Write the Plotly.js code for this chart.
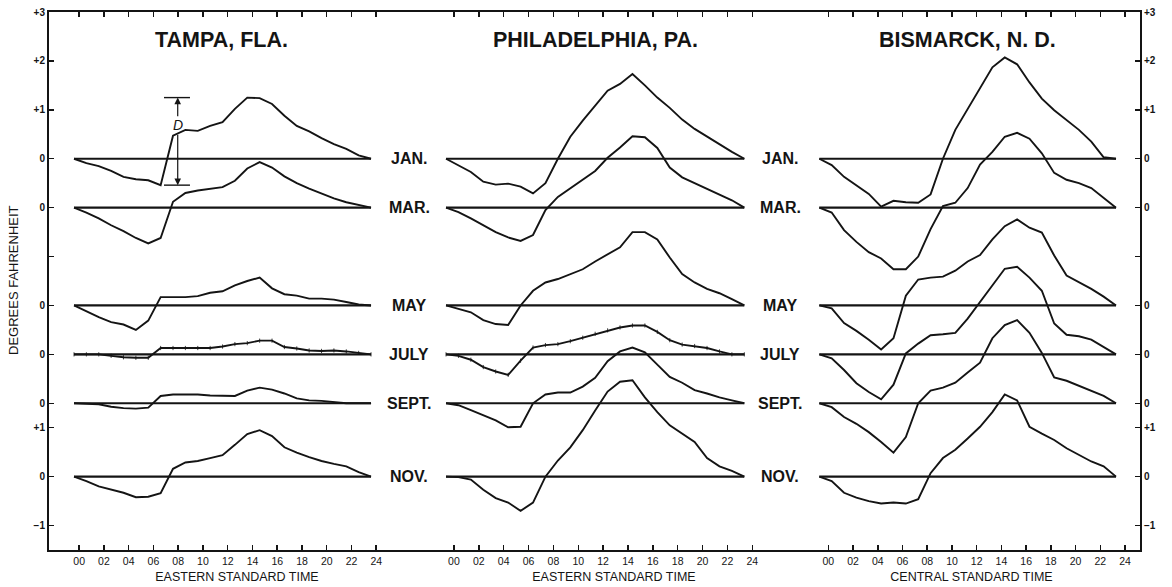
<!DOCTYPE html>
<html>
<head>
<meta charset="utf-8">
<script src="https://cdn.plot.ly/plotly-3.0.1.min.js"></script>
<style>
  html, body { margin: 0; padding: 0; background: #ffffff; }
  #chart { width: 1172px; height: 587px; }
</style>
</head>
<body>
<div id="chart"></div>
<script>
// ---------------- DATA ----------------
const HOURS = [0, 1, 2, 3, 4, 5, 6, 7, 8, 9, 10, 11, 12, 13, 14, 15, 16, 17, 18, 19, 20, 21, 22, 23, 24];
const MONTHS = ["JAN.", "MAR.", "MAY", "JULY", "SEPT.", "NOV."];
const CITIES = ["TAMPA, FLA.", "PHILADELPHIA, PA.", "BISMARCK, N. D."];
const TIME_ZONES = ["EASTERN STANDARD TIME", "EASTERN STANDARD TIME", "CENTRAL STANDARD TIME"];
const HOUR_TICKS = [0, 2, 4, 6, 8, 10, 12, 14, 16, 18, 20, 22, 24];
const HOUR_TICK_TEXT = ["00", "02", "04", "06", "08", "10", "12", "14", "16", "18", "20", "22", "24"];
const DEG_TICK_TEXT = ["+3", "+2", "+1", "0", "0", "", "0", "0", "0", "+1", "0", "\u22121"];

// Departure from daily mean (deg F), hourly
const tampaJan  = [0, -0.09, -0.15, -0.25, -0.37, -0.42, -0.44, -0.54, 0.47, 0.59, 0.57, 0.67, 0.75, 1.02, 1.25, 1.24, 1.12, 0.88, 0.67, 0.56, 0.42, 0.30, 0.20, 0.07, 0];
const tampaMar  = [0, -0.10, -0.22, -0.36, -0.48, -0.62, -0.73, -0.62, 0.12, 0.30, 0.35, 0.38, 0.42, 0.55, 0.80, 0.93, 0.82, 0.64, 0.50, 0.39, 0.29, 0.19, 0.11, 0.05, 0];
const tampaMay  = [0, -0.12, -0.24, -0.34, -0.39, -0.50, -0.31, 0.17, 0.17, 0.17, 0.19, 0.26, 0.29, 0.41, 0.50, 0.57, 0.35, 0.23, 0.20, 0.14, 0.14, 0.12, 0.07, 0.02, 0];
const tampaJul  = [0, 0, 0, -0.03, -0.06, -0.07, -0.07, 0.13, 0.13, 0.13, 0.13, 0.13, 0.16, 0.21, 0.23, 0.28, 0.28, 0.15, 0.12, 0.08, 0.07, 0.08, 0.06, 0.03, 0];
const tampaSep  = [0, -0.01, -0.02, -0.07, -0.10, -0.11, -0.09, 0.15, 0.18, 0.18, 0.18, 0.16, 0.15, 0.15, 0.26, 0.32, 0.28, 0.20, 0.10, 0.06, 0.05, 0.03, 0, 0, 0];
const tampaNov  = [0, -0.09, -0.20, -0.26, -0.33, -0.42, -0.41, -0.34, 0.16, 0.29, 0.32, 0.38, 0.44, 0.65, 0.87, 0.95, 0.83, 0.60, 0.49, 0.40, 0.32, 0.26, 0.21, 0.09, 0];

const philaJan  = [0, -0.13, -0.27, -0.47, -0.53, -0.51, -0.57, -0.71, -0.50, 0.0, 0.45, 0.78, 1.08, 1.39, 1.53, 1.73, 1.50, 1.25, 1.04, 0.80, 0.61, 0.45, 0.30, 0.14, 0];
const philaMar  = [0, -0.09, -0.22, -0.36, -0.50, -0.61, -0.68, -0.56, -0.05, 0.22, 0.40, 0.57, 0.75, 1.02, 1.23, 1.46, 1.44, 1.22, 0.82, 0.62, 0.50, 0.38, 0.27, 0.15, 0];
const philaMay  = [0, -0.07, -0.14, -0.30, -0.38, -0.40, 0.0, 0.30, 0.47, 0.54, 0.64, 0.74, 0.90, 1.04, 1.19, 1.50, 1.50, 1.35, 0.98, 0.64, 0.47, 0.34, 0.25, 0.13, 0];
const philaJul  = [0, -0.03, -0.11, -0.26, -0.35, -0.42, -0.13, 0.14, 0.19, 0.21, 0.27, 0.34, 0.42, 0.49, 0.55, 0.59, 0.59, 0.46, 0.29, 0.20, 0.17, 0.13, 0.06, 0.0, 0];
const philaSep  = [0, -0.04, -0.14, -0.24, -0.35, -0.49, -0.48, 0.0, 0.18, 0.22, 0.22, 0.34, 0.52, 0.86, 1.06, 1.14, 1.04, 0.79, 0.54, 0.42, 0.27, 0.20, 0.12, 0.06, 0];
const philaNov  = [0, -0.01, -0.06, -0.27, -0.44, -0.53, -0.70, -0.53, 0.0, 0.33, 0.60, 0.95, 1.35, 1.74, 1.94, 1.97, 1.62, 1.32, 1.05, 0.88, 0.71, 0.38, 0.21, 0.12, 0];

const bisJan    = [0, -0.13, -0.37, -0.55, -0.72, -0.98, -0.86, -0.89, -0.90, -0.73, 0.0, 0.59, 1.02, 1.46, 1.87, 2.07, 1.93, 1.56, 1.23, 0.99, 0.79, 0.59, 0.35, 0.03, 0];
const bisMar    = [0, -0.10, -0.46, -0.70, -0.91, -1.04, -1.26, -1.26, -1.00, -0.44, 0.03, 0.10, 0.40, 0.88, 1.14, 1.45, 1.53, 1.41, 1.11, 0.71, 0.57, 0.50, 0.40, 0.20, 0];
const bisMay    = [0, -0.06, -0.36, -0.52, -0.70, -0.90, -0.67, 0.20, 0.53, 0.57, 0.59, 0.71, 0.90, 1.03, 1.35, 1.62, 1.76, 1.59, 1.49, 1.02, 0.61, 0.48, 0.34, 0.18, 0];
const bisJul    = [0, -0.08, -0.32, -0.59, -0.77, -0.92, -0.62, 0.02, 0.22, 0.39, 0.41, 0.44, 0.73, 1.07, 1.40, 1.75, 1.79, 1.57, 1.30, 0.63, 0.40, 0.37, 0.30, 0.15, 0];
const bisSep    = [0, -0.08, -0.28, -0.42, -0.59, -0.79, -1.01, -0.69, 0.0, 0.26, 0.32, 0.42, 0.63, 0.83, 1.33, 1.60, 1.70, 1.44, 1.03, 0.53, 0.46, 0.36, 0.26, 0.15, 0];
const bisNov    = [0, -0.09, -0.33, -0.43, -0.50, -0.55, -0.53, -0.55, -0.46, 0.07, 0.38, 0.55, 0.78, 1.02, 1.32, 1.68, 1.56, 1.02, 0.88, 0.75, 0.58, 0.44, 0.31, 0.21, 0];

// ---------------- LAYOUT CONSTANTS ----------------
const INK = '#141414';
const FONT = 'Liberation Sans, Arial, sans-serif';
const W = 1172, H = 587;
const M = { l: 49, r: 32, t: 12, b: 37 };
const PW = W - M.l - M.r, PH = H - M.t - M.b;
const px2paperX = p => (p - M.l) / PW;
const px2paperY = p => 1 - (p - M.t) / PH;

// vertical stacking of each month's zero line (in degrees on the common scale)
const BASE_OFFSETS = [0, -1, -3, -4, -5, -6.5];
const Y_RANGE = [-8, 3];
const DEG_TICK_VALS = [3, 2, 1, 0, -1, -2, -3, -4, -5, -5.5, -6.5, -7.5];

const PANELS = [
  { xa: 'x',  ya: 'y', series: [tampaJan, tampaMar, tampaMay, tampaJul, tampaSep, tampaNov],
    domain: [0, px2paperX(425)], range: [-2.02, 28.36], tickShift: 0.42, titleX: 221 },
  { xa: 'x2', ya: 'y', series: [philaJan, philaMar, philaMay, philaJul, philaSep, philaNov],
    domain: [px2paperX(425), px2paperX(803)], range: [-1.69, 28.72], tickShift: 0.64, titleX: 595 },
  { xa: 'x3', ya: 'y', series: [bisJan, bisMar, bisMay, bisJul, bisSep, bisNov],
    domain: [px2paperX(803), 1], range: [-1.32, 25.94], tickShift: 0.73, titleX: 967 }
];

// ---------------- TRACES ----------------
const traces = [];
PANELS.forEach((p, pi) => {
  p.series.forEach((vals, mi) => {
    const off = BASE_OFFSETS[mi];
    traces.push({
      type: 'scatter', mode: 'lines', xaxis: p.xa, yaxis: p.ya,
      x: [HOURS[0], HOURS[HOURS.length - 1]], y: [off, off],
      line: { color: INK, width: 2.2 }, hoverinfo: 'skip', showlegend: false
    });
    const isJuly = MONTHS[mi] === 'JULY' && pi < 2;
    traces.push({
      type: 'scatter', mode: isJuly ? 'lines+markers' : 'lines', xaxis: p.xa, yaxis: p.ya,
      x: HOURS, y: vals.map(v => v + off), name: CITIES[pi] + ' ' + MONTHS[mi],
      line: { color: INK, width: 1.9 },
      marker: { symbol: 'line-ns-open', size: 3, line: { color: INK, width: 0.8 } },
      hoverinfo: 'skip', showlegend: false
    });
  });
});
// empty trace so the right-hand degree axis gets its own subplot
traces.push({ type: 'scatter', mode: 'lines', x: [], y: [], xaxis: 'x3', yaxis: 'y2', showlegend: false, hoverinfo: 'skip' });

// ---------------- AXES ----------------
function xAxis(p, i) {
  return {
    domain: p.domain, range: p.range, anchor: 'y',
    tickmode: 'array', tickvals: HOUR_TICKS.map(v => v + p.tickShift), ticktext: HOUR_TICK_TEXT,
    ticks: 'inside', ticklen: 5, tickwidth: 1.5, tickcolor: INK,
    showline: true, linecolor: INK, linewidth: 2, mirror: 'ticks',
    showgrid: false, zeroline: false, fixedrange: true,
    tickfont: { family: FONT, size: 10.5, color: INK },
    title: { text: TIME_ZONES[i], font: { family: FONT, size: 12.5, color: INK }, standoff: 7 }
  };
}
function yAxis(side) {
  return {
    range: Y_RANGE, domain: [0, 1],
    tickmode: 'array', tickvals: DEG_TICK_VALS, ticktext: DEG_TICK_TEXT,
    ticks: 'inside', ticklen: 5, tickwidth: 1.5, tickcolor: INK,
    showline: true, linecolor: INK, linewidth: 2,
    showgrid: false, zeroline: false, fixedrange: true,
    tickfont: { family: FONT, size: 10, color: INK, weight: 'bold' },
    side: side
  };
}

const layout = {
  width: W, height: H, margin: M,
  paper_bgcolor: '#ffffff', plot_bgcolor: '#ffffff',
  showlegend: false,
  xaxis: xAxis(PANELS[0], 0),
  xaxis2: xAxis(PANELS[1], 1),
  xaxis3: xAxis(PANELS[2], 2),
  yaxis: Object.assign(yAxis('left'), { anchor: 'x' }),
  yaxis2: Object.assign(yAxis('right'), { anchor: 'x3', overlaying: 'y' }),
  annotations: [],
  shapes: []
};

// city titles
PANELS.forEach((p, i) => {
  layout.annotations.push({
    xref: 'paper', yref: 'paper', x: px2paperX(p.titleX), y: px2paperY(40),
    xanchor: 'center', yanchor: 'middle', showarrow: false, text: CITIES[i],
    font: { family: FONT, size: 21.5, color: INK, weight: 'bold' }
  });
});

// month labels in the gaps between panels
[409, 780].forEach(cx => {
  MONTHS.forEach((m, mi) => {
    layout.annotations.push({
      xref: 'paper', yref: 'y', x: px2paperX(cx), y: BASE_OFFSETS[mi],
      xanchor: 'center', yanchor: 'middle', showarrow: false, text: m,
      font: { family: FONT, size: 16, color: INK, weight: 'bold' }
    });
  });
});

// y-axis title
layout.annotations.push({
  xref: 'paper', yref: 'paper', x: px2paperX(13), y: px2paperY(280),
  xanchor: 'center', yanchor: 'middle', showarrow: false, textangle: -90,
  text: 'DEGREES FAHRENHEIT', font: { family: FONT, size: 13, color: INK }
});

// "D" range marker on Tampa January
const dMax = Math.max(...tampaJan) + BASE_OFFSETS[0];
const dMin = Math.min(...tampaJan) + BASE_OFFSETS[0];
const dX = 8.38, dBar = [7.27, 9.37];
[dMax, dMin].forEach(yv => {
  layout.shapes.push({ type: 'line', xref: 'x', yref: 'y', x0: dBar[0], x1: dBar[1], y0: yv, y1: yv,
    line: { color: INK, width: 1.4 } });
});
layout.annotations.push(
  { xref: 'x', yref: 'y', axref: 'x', ayref: 'y', x: dX, y: dMax, ax: dX, ay: 0.84, text: '',
    showarrow: true, arrowhead: 2, arrowsize: 1.1, arrowwidth: 1.2, arrowcolor: INK, standoff: 0, startstandoff: 0 },
  { xref: 'x', yref: 'y', axref: 'x', ayref: 'y', x: dX, y: dMin, ax: dX, ay: 0.52, text: '',
    showarrow: true, arrowhead: 2, arrowsize: 1.1, arrowwidth: 1.2, arrowcolor: INK, standoff: 0, startstandoff: 0 },
  { xref: 'x', yref: 'y', x: dX, y: 0.68, text: 'D', showarrow: false, xanchor: 'center', yanchor: 'middle',
    font: { family: FONT, size: 14, color: INK, style: 'italic' } }
);

Plotly.newPlot('chart', traces, layout, { displayModeBar: false, staticPlot: true });
</script>
</body>
</html>
